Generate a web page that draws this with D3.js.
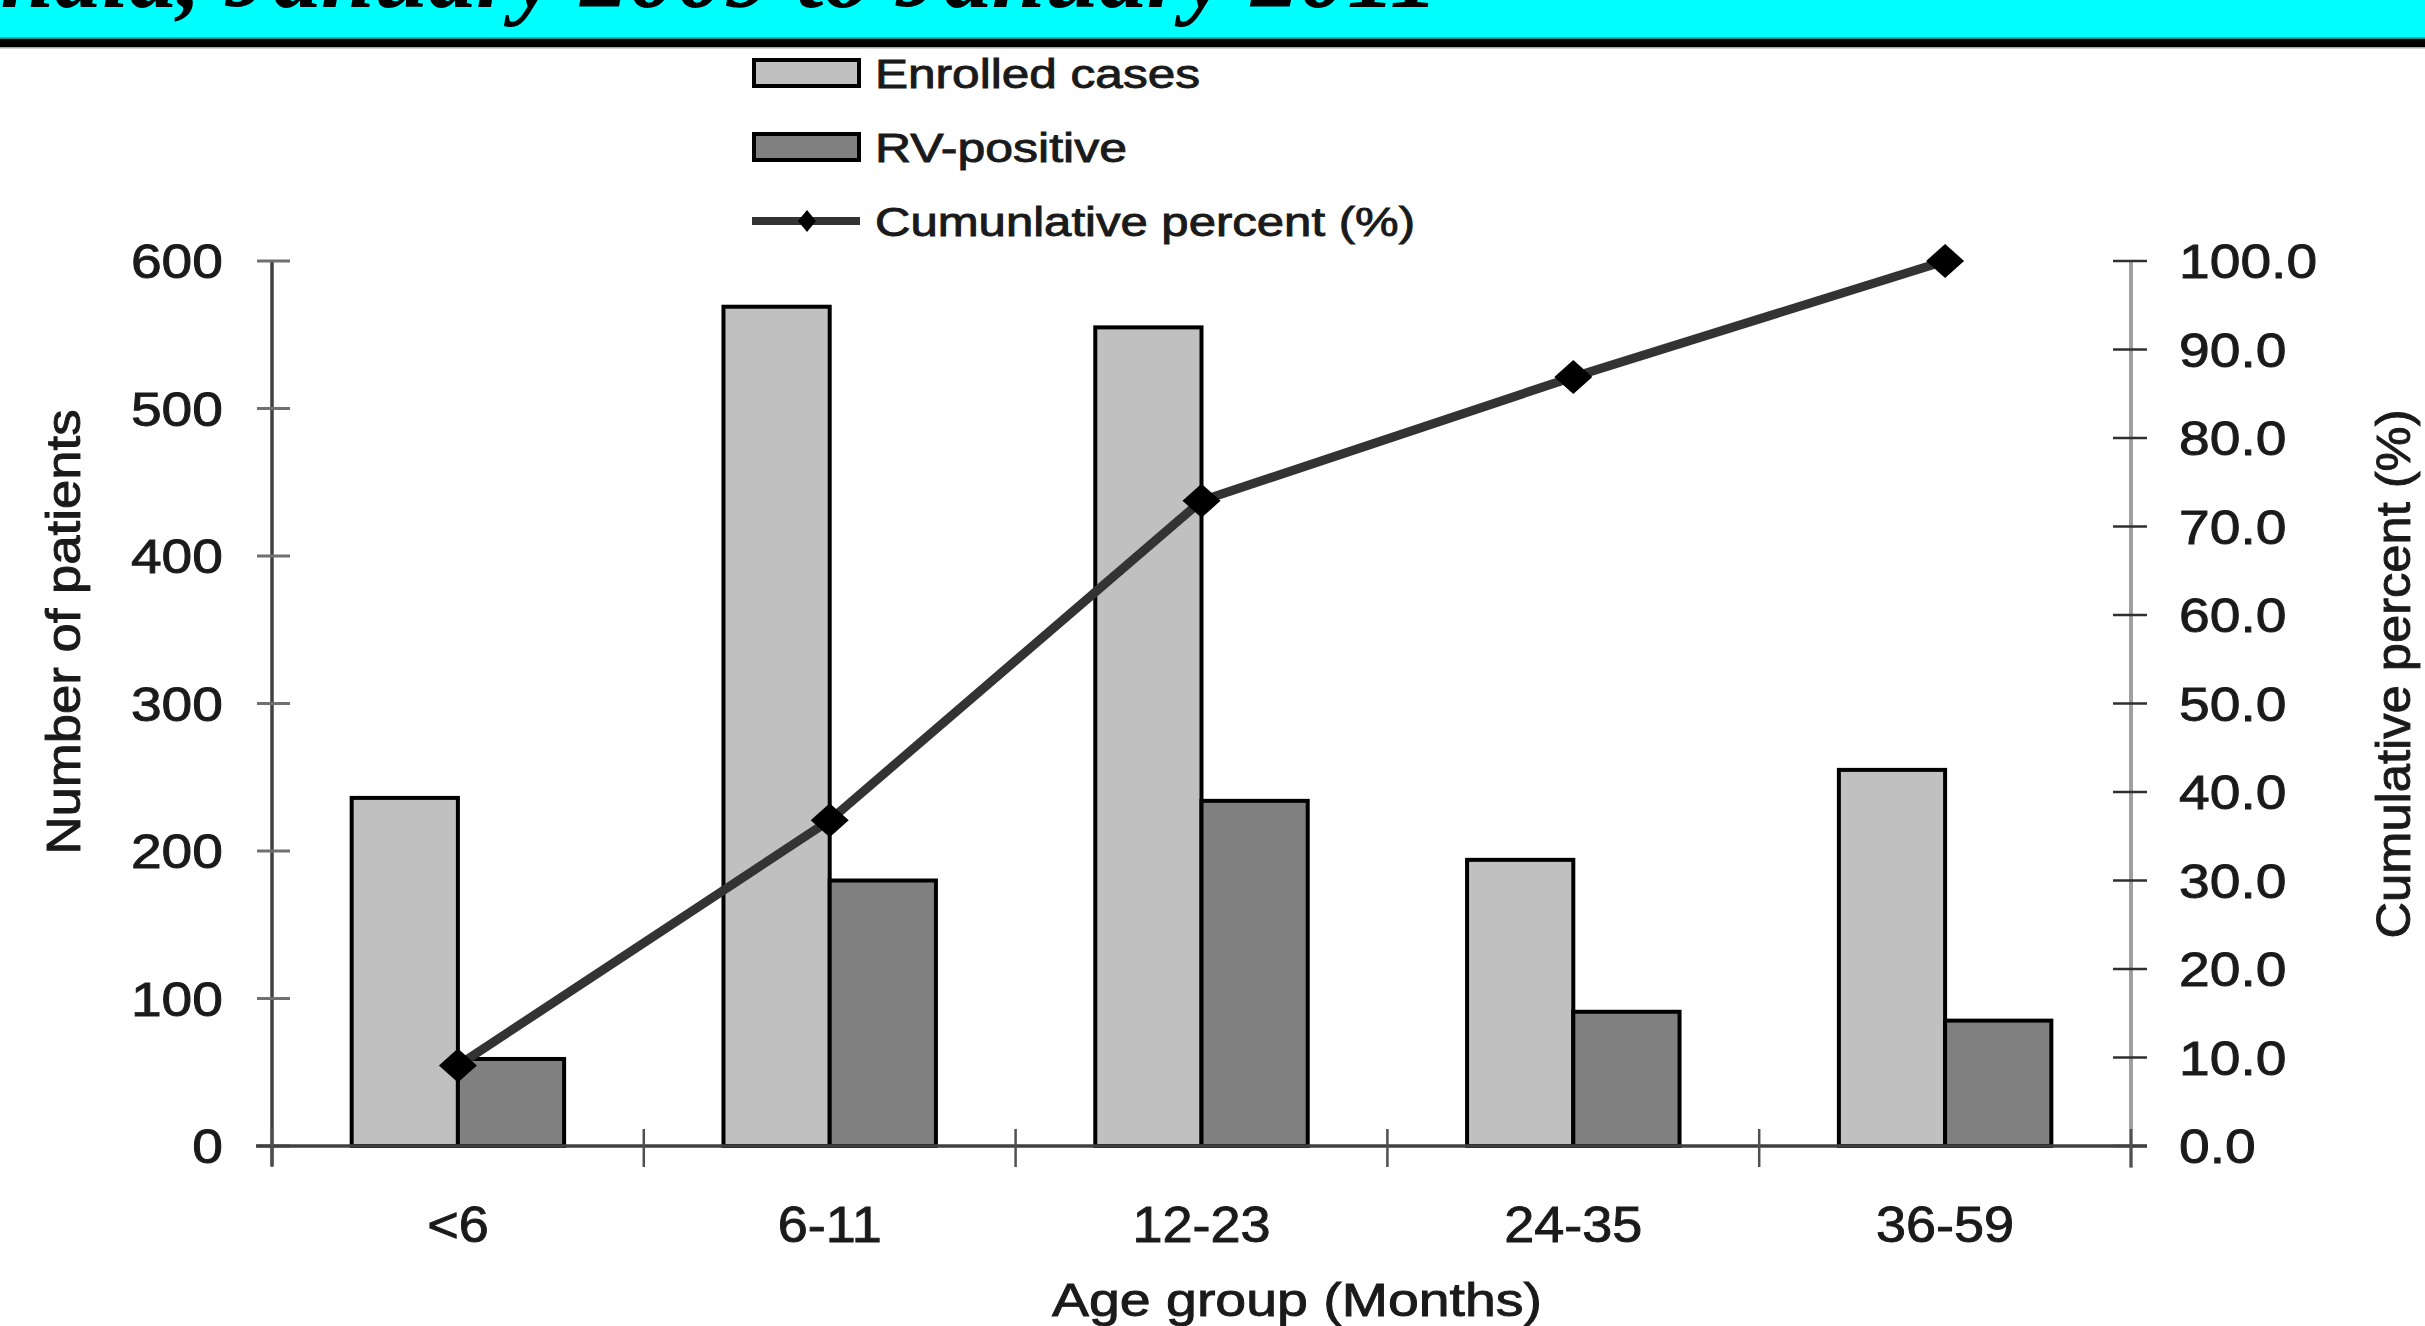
<!DOCTYPE html>
<html>
<head>
<meta charset="utf-8">
<script src="https://cdn.jsdelivr.net/npm/d3@7"></script>
<style>
  html, body { margin: 0; padding: 0; background: #ffffff; overflow: hidden; }
  svg { display: block; }
  .lbl { stroke: #1a1a1a; stroke-width: 0.9; paint-order: stroke; }
</style>
</head>
<body>
<svg id="chart" width="2425" height="1326"></svg>
<script>
// Age groups on the horizontal axis
const categories = ["<6", "6-11", "12-23", "24-35", "36-59"];
// Number of enrolled diarrhoea cases per age group
const enrolledCases = [236, 569, 555, 194, 255];
// Number of rotavirus-positive cases per age group
const rvPositive = [59, 180, 234, 91, 85];
// Cumulative percent of RV-positive cases
const cumulativePercent = [9.1, 36.8, 72.9, 86.9, 100.0];

// Tick values and labels
const leftTicks = [0, 100, 200, 300, 400, 500, 600];
const leftTickLabels = ["0", "100", "200", "300", "400", "500", "600"];
const rightTicks = [0, 10, 20, 30, 40, 50, 60, 70, 80, 90, 100];
const rightTickLabels = ["0.0", "10.0", "20.0", "30.0", "40.0", "50.0", "60.0", "70.0", "80.0", "90.0", "100.0"];

// Legend entries and axis titles
const legendLabels = ["Enrolled cases", "RV-positive", "Cumunlative percent (%)"];
const xTitle = "Age group (Months)";
const yLeftTitle = "Number of patients";
const yRightTitle = "Cumulative percent (%)";
const bannerTitle = "India, January 2009 to January 2011";

const svg = d3.select("#chart");
const W = 2425, H = 1326;

// ---- Banner across the top ----
svg.append("rect").attr("x", 0).attr("y", 0).attr("width", W).attr("height", 38).attr("fill", "#00ffff");
svg.append("rect").attr("x", 0).attr("y", 37.5).attr("width", W).attr("height", 1.5).attr("fill", "#008b8b");
svg.append("rect").attr("x", 0).attr("y", 39).attr("width", W).attr("height", 8).attr("fill", "#000000");
svg.append("rect").attr("x", 0).attr("y", 47).attr("width", W).attr("height", 1.5).attr("fill", "#a8a8a8");

svg.append("text")
  .attr("x", -37).attr("y", 7)
  .attr("font-family", "'Liberation Serif', 'DejaVu Serif', serif")
  .attr("font-weight", "bold").attr("font-style", "italic")
  .attr("font-size", 96)
  .attr("textLength", 1475).attr("lengthAdjust", "spacingAndGlyphs")
  .attr("fill", "#000")
  .text(bannerTitle);

// ---- Scales ----
const plotLeft = 272, plotRight = 2131, plotBottom = 1146, plotTop = 261;
const x = d3.scaleBand().domain(categories).range([plotLeft, plotRight]).padding(0);
const yL = d3.scaleLinear().domain([0, 600]).range([plotBottom, plotTop]);
const yR = d3.scaleLinear().domain([0, 100]).range([plotBottom, plotTop]);
const barW = x.bandwidth() / 3.5;   // 150% gap between groups
const cx = c => x(c) + x.bandwidth() / 2;

const sansFont = "'Liberation Sans', Arial, 'DejaVu Sans', sans-serif";

// ---- Bars ----
const barLayer = svg.append("g");
barLayer.selectAll("rect.enrolled")
  .data(enrolledCases)
  .join("rect")
  .attr("class", "enrolled")
  .attr("x", (d, i) => cx(categories[i]) - barW)
  .attr("y", d => yL(d))
  .attr("width", barW)
  .attr("height", d => yL(0) - yL(d))
  .attr("fill", "#c0c0c0")
  .attr("stroke", "#000").attr("stroke-width", 4);

barLayer.selectAll("rect.rv")
  .data(rvPositive)
  .join("rect")
  .attr("class", "rv")
  .attr("x", (d, i) => cx(categories[i]))
  .attr("y", d => yL(d))
  .attr("width", barW)
  .attr("height", d => yL(0) - yL(d))
  .attr("fill", "#808080")
  .attr("stroke", "#000").attr("stroke-width", 4);

// ---- Left axis ----
const axisL = svg.append("g");
axisL.append("line")
  .attr("x1", plotLeft).attr("x2", plotLeft)
  .attr("y1", yL(600)).attr("y2", plotBottom + 20)
  .attr("stroke", "#404040").attr("stroke-width", 3.5);
axisL.selectAll("line.tick")
  .data(leftTicks)
  .join("line")
  .attr("class", "tick")
  .attr("x1", plotLeft - 15).attr("x2", plotLeft + 18)
  .attr("y1", d => yL(d)).attr("y2", d => yL(d))
  .attr("stroke", "#707070").attr("stroke-width", 3);
axisL.selectAll("text")
  .data(leftTicks)
  .join("text")
  .attr("class", "lbl")
  .attr("transform", d => `translate(223,${yL(d) + 17}) scale(1.15,1)`)
  .attr("text-anchor", "end")
  .attr("font-family", sansFont).attr("font-size", 48)
  .attr("fill", "#1a1a1a")
  .text((d, i) => leftTickLabels[i]);

// ---- Right axis ----
const axisR = svg.append("g");
axisR.append("line")
  .attr("x1", plotRight).attr("x2", plotRight)
  .attr("y1", yR(100)).attr("y2", plotBottom + 22)
  .attr("stroke", "#a0a0a0").attr("stroke-width", 4);
axisR.selectAll("line.tick")
  .data(rightTicks)
  .join("line")
  .attr("class", "tick")
  .attr("x1", plotRight - 18).attr("x2", plotRight + 16)
  .attr("y1", d => yR(d)).attr("y2", d => yR(d))
  .attr("stroke", "#303030").attr("stroke-width", 2.5);
axisR.selectAll("text")
  .data(rightTicks)
  .join("text")
  .attr("class", "lbl")
  .attr("transform", d => `translate(2179,${yR(d) + 17}) scale(1.15,1)`)
  .attr("text-anchor", "start")
  .attr("font-family", sansFont).attr("font-size", 48)
  .attr("fill", "#1a1a1a")
  .text((d, i) => rightTickLabels[i]);

// ---- Category axis ----
const axisX = svg.append("g");
axisX.append("line")
  .attr("x1", plotLeft - 16).attr("x2", plotRight + 16)
  .attr("y1", plotBottom).attr("y2", plotBottom)
  .attr("stroke", "#404040").attr("stroke-width", 3.5);
const boundaries = categories.map(c => x(c)).concat([x(categories[categories.length - 1]) + x.bandwidth()]);
axisX.selectAll("line.tick")
  .data(boundaries)
  .join("line")
  .attr("class", "tick")
  .attr("x1", d => d).attr("x2", d => d)
  .attr("y1", plotBottom - 17).attr("y2", plotBottom + 21)
  .attr("stroke", "#505050").attr("stroke-width", 2.5);
axisX.selectAll("text")
  .data(categories)
  .join("text")
  .attr("class", "lbl")
  .attr("transform", d => `translate(${cx(d)},1242) scale(1.08,1)`)
  .attr("text-anchor", "middle")
  .attr("font-family", sansFont).attr("font-size", 50)
  .attr("fill", "#1a1a1a")
  .text(d => d);

// ---- Cumulative percent line ----
const line = d3.line()
  .x((d, i) => cx(categories[i]))
  .y(d => yR(d));
svg.append("path")
  .datum(cumulativePercent)
  .attr("d", line)
  .attr("fill", "none")
  .attr("stroke", "#333333").attr("stroke-width", 9)
  .attr("stroke-linejoin", "round");

const diamond = (w, h) => `M0,${-h}L${w},0L0,${h}L${-w},0Z`;
svg.selectAll("path.marker")
  .data(cumulativePercent)
  .join("path")
  .attr("class", "marker")
  .attr("transform", (d, i) => `translate(${cx(categories[i])},${yR(d)})`)
  .attr("d", diamond(19, 17))
  .attr("fill", "#000");

// ---- Axis titles ----
svg.append("text")
  .attr("class", "lbl")
  .attr("transform", "translate(80,632) rotate(-90)")
  .attr("text-anchor", "middle")
  .attr("font-family", sansFont).attr("font-size", 48)
  .attr("textLength", 445).attr("lengthAdjust", "spacingAndGlyphs")
  .attr("fill", "#1a1a1a")
  .text(yLeftTitle);

svg.append("text")
  .attr("class", "lbl")
  .attr("transform", "translate(2410,674) rotate(-90)")
  .attr("text-anchor", "middle")
  .attr("font-family", sansFont).attr("font-size", 48)
  .attr("textLength", 529).attr("lengthAdjust", "spacingAndGlyphs")
  .attr("fill", "#1a1a1a")
  .text(yRightTitle);

svg.append("text")
  .attr("class", "lbl")
  .attr("x", 1297).attr("y", 1316)
  .attr("text-anchor", "middle")
  .attr("font-family", sansFont).attr("font-size", 46)
  .attr("textLength", 490).attr("lengthAdjust", "spacingAndGlyphs")
  .attr("fill", "#1a1a1a")
  .text(xTitle);

// ---- Legend ----
const legend = svg.append("g");
const legendRowsY = [73, 147, 221];
const legendTextW = [325, 252, 540];
const legendFills = ["#c0c0c0", "#808080"];
legend.selectAll("rect")
  .data(legendFills)
  .join("rect")
  .attr("x", 754).attr("y", (d, i) => legendRowsY[i] - 13)
  .attr("width", 105).attr("height", 26)
  .attr("fill", d => d)
  .attr("stroke", "#000").attr("stroke-width", 4);
legend.append("line")
  .attr("x1", 752).attr("x2", 860)
  .attr("y1", legendRowsY[2]).attr("y2", legendRowsY[2])
  .attr("stroke", "#333333").attr("stroke-width", 8);
legend.append("path")
  .attr("transform", `translate(807,${legendRowsY[2]})`)
  .attr("d", diamond(9, 11))
  .attr("fill", "#000");
legend.selectAll("text")
  .data(legendLabels)
  .join("text")
  .attr("class", "lbl")
  .attr("x", 875).attr("y", (d, i) => legendRowsY[i] + 15)
  .attr("font-family", sansFont).attr("font-size", 40)
  .attr("textLength", (d, i) => legendTextW[i]).attr("lengthAdjust", "spacingAndGlyphs")
  .attr("fill", "#1a1a1a")
  .text(d => d);
</script>
</body>
</html>
